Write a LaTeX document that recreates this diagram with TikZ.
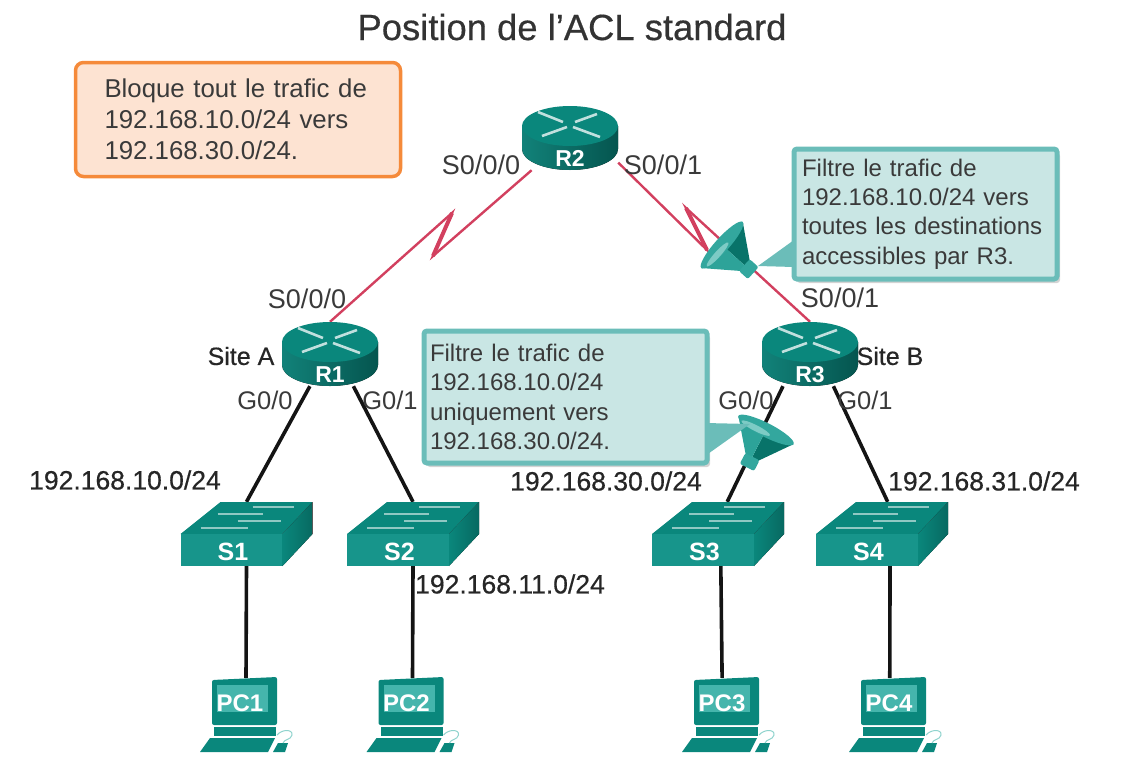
\documentclass[tikz,border=0pt]{standalone}
\usepackage{fontspec}
\setmainfont{Liberation Sans}
\newfontfamily\medfont[FakeBold=0.5]{Liberation Sans}
\usetikzlibrary{backgrounds,shadows}
\pgfdeclarelayer{devicelayer}
\pgfsetlayers{background,devicelayer,main}
\definecolor{ink}{HTML}{3A3A3A}
\definecolor{tealtop}{HTML}{0A877C}
\definecolor{tealdark}{HTML}{05554F}
\definecolor{teallight}{HTML}{45B5AC}
\definecolor{tealface}{HTML}{17958B}
\definecolor{tealedge}{HTML}{6BBDB9}
\definecolor{tealfill}{HTML}{C9E6E4}
\definecolor{serialred}{HTML}{D2405F}
\definecolor{orangeedge}{HTML}{F58A3A}
\definecolor{orangefill}{HTML}{FDE3D2}
\tikzstyle{edge}=[
    line width=3.6pt,
    draw=black!92
]
\tikzstyle{serial}=[
    line width=2.4pt,
    draw=serialred
]
\tikzstyle{router}=[
    inner sep=0pt,
    minimum width=96pt,
    minimum height=64pt,
    text=white,
    text height=56pt,
    text depth=0pt,
    font=\fontsize{23}{25}\selectfont\bfseries
]
\tikzstyle{switchbox}=[
    inner sep=0pt,
    minimum width=133pt,
    minimum height=64pt,
    text=white,
    text height=52pt,
    text depth=0pt,
    font=\fontsize{25}{27}\selectfont\bfseries,
    execute at end node={\hspace{27pt}}
]
\tikzstyle{pcbox}=[
    inner sep=0pt,
    minimum width=93pt,
    minimum height=74pt,
    text=white,
    text height=6pt,
    text depth=14pt,
    font=\fontsize{24}{26}\selectfont\bfseries,
    execute at end node={\hspace{12pt}}
]
\tikzstyle{portlbl}=[
    inner sep=0pt,
    text=ink,
    font=\fontsize{25.5}{28}\selectfont
]
\tikzstyle{seriallbl}=[
    portlbl,
    font=\fontsize{27}{28}\selectfont
]
\tikzstyle{sitelbl}=[
    inner sep=0pt,
    text=black!85,
    font=\fontsize{25}{28}\selectfont\medfont
]
\tikzstyle{netlbl}=[
    inner sep=0pt,
    text=black!85,
    font=\fontsize{26.5}{28}\selectfont\medfont
]
\tikzstyle{notebox}=[
    inner sep=0pt,
    align=left,
    text=ink,
    font=\fontsize{25.8}{31}\selectfont
]
\tikzstyle{callout}=[
    notebox,
    rounded corners=3pt,
    draw=tealedge,
    line width=5pt,
    fill=tealfill,
    font=\fontsize{24}{29.2}\selectfont,
    drop shadow={shadow xshift=3pt,shadow yshift=-4pt,opacity=.35}
]
\tikzset{
  routershape/.pic={
    \fill[left color=tealface!70!tealdark,middle color=teallight,right color=tealdark]
      (-48,-12) -- (-48,11) arc[start angle=180,end angle=0,x radius=48,y radius=21] -- (48,-12) -- cycle;
    \fill[tealtop] (0,-12) ellipse[x radius=48,y radius=20];
    \draw[white,opacity=.75,line width=2.6pt]
      (-32,-26) -- (-7,-16) (5,-16) -- (27,-24) (-28,-2) -- (-3,-11) (3,-11) -- (30,-1);
  },
  switchshape/.pic={
    \fill[tealtop] (-66,0) -- (-26,-32) -- (66,-32) -- (36,0) -- cycle;
    \fill[tealface] (-66,0) rectangle (36,32);
    \fill[left color=tealtop,right color=tealdark!60!tealtop] (36,0) -- (66,-32) -- (66,0) -- (36,32) -- cycle;
    \draw[white,opacity=.55,line width=2.2pt]
      (6,-27) -- (47,-27) (-29,-20) -- (16,-20) (-9,-13) -- (34,-13) (-46,-6) -- (1,-6);
  },
  pcshape/.pic={
    \fill[tealtop,rounded corners=2pt] (-34,-35) -- (31,-38) -- (31,10) -- (-34,10) -- cycle;
    \fill[teallight] (-29,-30) rectangle (22,-3);
    \fill[tealtop] (-32,12) -- (30,12) -- (30,21) -- (-32,21) -- cycle;
    \fill[tealtop] (-36,23) -- (29,23) -- (22,37) -- (-46,37) -- cycle;
    \fill[tealtop] (27,37) -- (32,28) -- (42,28) -- (39,37) -- cycle;
    \draw[teallight!60!white,line width=1pt] (31,20) .. controls (36,14) and (47,14) .. (46,20) .. controls (45,25) and (38,24) .. (37,28);
  },
  filter/.pic={
    \fill[tealtop!85!black] (0,-31) -- (31,-7) -- (31,0) -- (0,0) -- cycle;
    \fill[teallight!60!tealtop] (0,31) -- (31,7) -- (31,0) -- (0,0) -- cycle;
    \fill[teallight!70!tealtop,rounded corners=2pt] (30,-8) rectangle (42,8);
    \fill[teallight!70!tealtop] (0,0) ellipse[x radius=7,y radius=31];
    \fill[teallight!70!white] (3,10) ellipse[x radius=3,y radius=16];
  }
}
\begin{document}
\begin{tikzpicture}[x=1pt,y=-1pt]
\useasboundingbox (0,0) rectangle (1124,782);

\node[font=\fontsize{36.4}{38}\selectfont\medfont,text=black!80,inner sep=0pt] (title) at (572,27) {Position de l’ACL standard};

\node[router] (R2) at (570,138) {R2};
\node[router] (R1) at (330,354) {R1};
\node[router] (R3) at (810,354) {R3};

\foreach \n/\x in {1/246.5,2/413,3/718,4/882} {
    \node[switchbox] (S\n) at (\x,534) {S\n};
}
\foreach \n/\x in {1/246,2/412.5,3/728,4/895} {
    \node[pcbox] (PC\n) at (\x,715) {PC\n};
}

\begin{pgfonlayer}{devicelayer}
\foreach \d in {R1,R2,R3} {
    \pic at (\d) {routershape};
}
\foreach \d in {S1,S2,S3,S4} {
    \pic at (\d) {switchshape};
}
\foreach \d in {PC1,PC2,PC3,PC4} {
    \pic at (\d) {pcshape};
}
\end{pgfonlayer}

\coordinate (zigA) at (452,213);
\coordinate (zigB) at (433,256);
\coordinate (zigC) at (707,250);
\coordinate (zigD) at (686,208);

\begin{scope}[on background layer]
\draw[serial] (R2.220) -- (zigB) -- (zigA) -- (R1.north);
\draw[serial] (R2.-27) -- (zigC) -- (zigD) -- (R3.north);
\draw[serial,line width=4pt] (zigA) -- (zigB);
\draw[serial,line width=4pt] (zigC) -- (zigD);
\draw[edge] (R1.-122) -- (S1.north);
\draw[edge] (R1.-54) -- (S2.north);
\draw[edge] (R3.-130) -- (S3.74);
\draw[edge] (R3.-54) -- (S4.80);
\draw[edge] (S1.south) -- (PC1.north);
\draw[edge] (S2.south) -- (PC2.north);
\draw[edge] (S3.-85) -- (PC3.99);
\draw[edge] (S4.-76) -- (PC4.98);
\end{scope}

\node[seriallbl] (p1) at (481,165) {S0/0/0};
\node[seriallbl] (p2) at (663,165) {S0/0/1};
\node[seriallbl] (p3) at (307,299) {S0/0/0};
\node[seriallbl] (p4) at (840,298) {S0/0/1};
\node[portlbl] (p5) at (265,400) {G0/0};
\node[portlbl] (p6) at (390,400) {G0/1};
\node[portlbl] (p7) at (746,400) {G0/0};
\node[portlbl] (p8) at (865,400) {G0/1};
\node[sitelbl] (siteA) at (241,356) {Site A};
\node[sitelbl] (siteB) at (890,356) {Site B};

\node[netlbl] (netA) at (125,480) {192.168.10.0/24};
\node[netlbl] (netB) at (510,584) {192.168.11.0/24};
\node[netlbl] (netC) at (606,481) {192.168.30.0/24};
\node[netlbl] (netD) at (984,481) {192.168.31.0/24};

\node[notebox,draw=orangeedge,fill=orangefill,line width=3.5pt,rounded corners=8pt,
      minimum width=325pt,minimum height=114pt,text width=267pt] (block) at (238,119.5)
      {\mbox{Bloque tout le trafic de}\\192.168.10.0/24 vers\\192.168.30.0/24.};

\pic[rotate=-42] (filterA) at (722,245) {filter};
\pic[rotate=-117] (filterB) at (766,430) {filter};

\node[callout,minimum width=263pt,minimum height=130pt,text width=247pt] (noteA) at (925.5,214)
      {Filtre le trafic de\\192.168.10.0/24 vers\\\mbox{toutes les destinations}\\accessibles par R3.};
\node[callout,minimum width=283pt,minimum height=132pt,text width=271pt] (noteB) at (565.5,397)
      {Filtre le trafic de\\192.168.10.0/24\\uniquement vers\\192.168.30.0/24.};
\fill[tealedge] (794,240) -- (758,266) -- (794,267) -- cycle;
\fill[tealedge] (705,423) -- (750,424) -- (705,456) -- cycle;
\end{tikzpicture}
\end{document}
